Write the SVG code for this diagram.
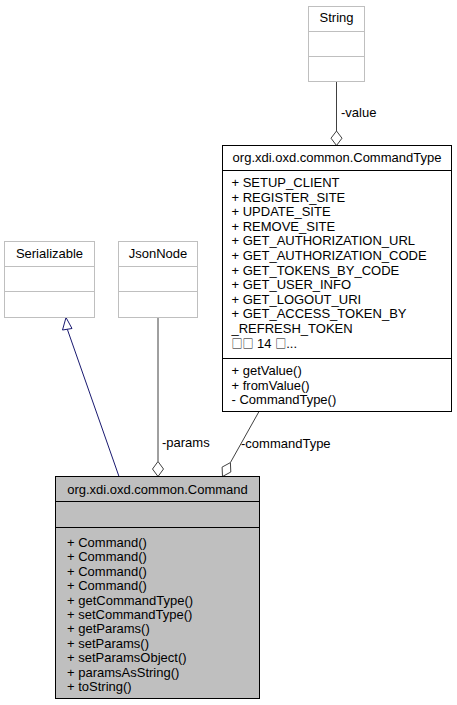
<svg xmlns="http://www.w3.org/2000/svg" width="457" height="705" viewBox="0 0 457 705">
<style>
text{font-family:"Liberation Sans",Arial,"Noto Sans CJK SC",sans-serif;font-size:13px;fill:#000}
.tofu{font-family:"Noto Sans CJK SC","Noto Sans CJK JP",sans-serif;font-size:11px}
.ext{fill:#fff;stroke:#bfbfbf;stroke-width:1}
.extsep{stroke:#bfbfbf;stroke-width:1}
.doc{fill:#fff;stroke:#000;stroke-width:1}
.main{fill:#bfbfbf;stroke:#000;stroke-width:1}
.sep{stroke:#000;stroke-width:1}
.mid{text-anchor:middle}
.edge{fill:none;stroke:#404040;stroke-width:1}
.dia{fill:#fff;stroke:#404040;stroke-width:1}
.inh{fill:none;stroke:#191970;stroke-width:1}
.inhhead{fill:#fff;stroke:#191970;stroke-width:1}
</style>
<rect width="457" height="705" fill="#fff"/>
<g id="edges">
<line class="edge" x1="336.5" y1="81.5" x2="336.5" y2="131"/>
<polygon class="dia" points="336.5,131 342,138.2 336.5,145.5 331,138.2"/>
<text x="341" y="117">-value</text>
<line class="inh" x1="119" y1="476.5" x2="67.3" y2="329.2"/>
<polygon class="inhhead" points="66,317.5 72,328.5 62.5,330"/>
<line class="edge" x1="158" y1="317.5" x2="158" y2="461.5"/>
<polygon class="dia" points="158,461.5 163.5,469 158,476.5 152.5,469"/>
<text x="162" y="447">-params</text>
<line class="edge" x1="259" y1="411.5" x2="230.4" y2="462.6"/>
<polygon class="dia" points="230.4,462.6 230.8,472 222.5,476.5 222.1,467.1"/>
<text x="241" y="447.5">-commandType</text>
</g>
<g id="String">
<rect class="ext" x="308.5" y="6.5" width="56" height="75"/>
<line class="extsep" x1="308.5" y1="31.5" x2="364.5" y2="31.5"/>
<line class="extsep" x1="308.5" y1="56.5" x2="364.5" y2="56.5"/>
<text class="mid" x="336.5" y="22">String</text>
</g>
<g id="CommandType">
<rect class="doc" x="222.5" y="145.5" width="229" height="266"/>
<line class="sep" x1="222.5" y1="170.5" x2="451.5" y2="170.5"/>
<line class="sep" x1="222.5" y1="358.5" x2="451.5" y2="358.5"/>
<text class="mid" x="337" y="162">org.xdi.oxd.common.CommandType</text>
<text x="231.5"><tspan x="231.5" y="187">+ SETUP_CLIENT</tspan><tspan x="231.5" y="201.6">+ REGISTER_SITE</tspan><tspan x="231.5" y="216.2">+ UPDATE_SITE</tspan><tspan x="231.5" y="230.8">+ REMOVE_SITE</tspan><tspan x="231.5" y="245.4">+ GET_AUTHORIZATION_URL</tspan><tspan x="231.5" y="260">+ GET_AUTHORIZATION_CODE</tspan><tspan x="231.5" y="274.6">+ GET_TOKENS_BY_CODE</tspan><tspan x="231.5" y="289.2">+ GET_USER_INFO</tspan><tspan x="231.5" y="303.8">+ GET_LOGOUT_URI</tspan><tspan x="231.5" y="318.4">+ GET_ACCESS_TOKEN_BY</tspan><tspan x="231.5" y="333">_REFRESH_TOKEN</tspan><tspan x="231.5" y="347.6"><tspan class="tofu">□□</tspan> 14 <tspan class="tofu">□</tspan>...</tspan></text>
<text x="231.5"><tspan x="231.5" y="375">+ getValue()</tspan><tspan x="231.5" y="389.5">+ fromValue()</tspan><tspan x="231.5" y="404">- CommandType()</tspan></text>
</g>
<g id="Serializable">
<rect class="ext" x="4.5" y="241.5" width="90" height="76"/>
<line class="extsep" x1="4.5" y1="266.5" x2="94.5" y2="266.5"/>
<line class="extsep" x1="4.5" y1="291.5" x2="94.5" y2="291.5"/>
<text class="mid" x="49.5" y="258">Serializable</text>
</g>
<g id="JsonNode">
<rect class="ext" x="118.5" y="241.5" width="79" height="76"/>
<line class="extsep" x1="118.5" y1="266.5" x2="197.5" y2="266.5"/>
<line class="extsep" x1="118.5" y1="291.5" x2="197.5" y2="291.5"/>
<text class="mid" x="158" y="258">JsonNode</text>
</g>
<g id="Command">
<rect class="main" x="55.5" y="476.5" width="204" height="222"/>
<line class="sep" x1="55.5" y1="501.5" x2="259.5" y2="501.5"/>
<line class="sep" x1="55.5" y1="527.5" x2="259.5" y2="527.5"/>
<text class="mid" x="157.5" y="493.5">org.xdi.oxd.common.Command</text>
<text x="67"><tspan x="67" y="547">+ Command()</tspan><tspan x="67" y="561.4">+ Command()</tspan><tspan x="67" y="575.8">+ Command()</tspan><tspan x="67" y="590.2">+ Command()</tspan><tspan x="67" y="604.6">+ getCommandType()</tspan><tspan x="67" y="619">+ setCommandType()</tspan><tspan x="67" y="633.4">+ getParams()</tspan><tspan x="67" y="647.8">+ setParams()</tspan><tspan x="67" y="662.2">+ setParamsObject()</tspan><tspan x="67" y="676.6">+ paramsAsString()</tspan><tspan x="67" y="691">+ toString()</tspan></text>
</g>
</svg>
